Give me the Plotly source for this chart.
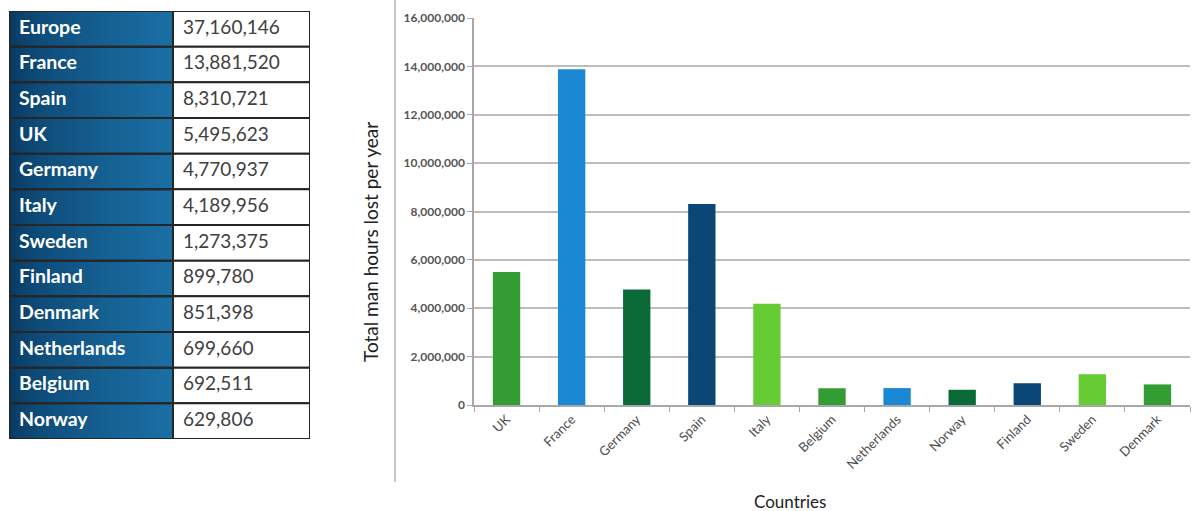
import plotly.graph_objects as go

# ---- data ----
table_labels = ["Europe", "France", "Spain", "UK", "Germany", "Italy", "Sweden",
                "Finland", "Denmark", "Netherlands", "Belgium", "Norway"]
table_values = [37160146, 13881520, 8310721, 5495623, 4770937, 4189956, 1273375,
                899780, 851398, 699660, 692511, 629806]

chart_countries = ["UK", "France", "Germany", "Spain", "Italy", "Belgium",
                   "Netherlands", "Norway", "Finland", "Sweden", "Denmark"]
lookup = dict(zip(table_labels, table_values))
chart_values = [lookup[c] for c in chart_countries]

y_ticks = [0, 2000000, 4000000, 6000000, 8000000, 10000000, 12000000, 14000000, 16000000]

# ---- styling ----
W, H = 1194, 511
palette = ["#339c33", "#1a88d2", "#0b6b38", "#0a4676", "#66cc33"]
bar_colors = [palette[i % 5] for i in range(len(chart_countries))]

def px_x(x):
    return x / W

def px_y(y):
    return 1 - y / H

LABEL_W = 164   # width of label column (px units on table axis)
VALUE_W = 137   # width of value column
PAD = 10
n_rows = len(table_labels)
border = dict(color="#262626", width=2)

fig = go.Figure()

# ---- table drawn on its own axes ----
fig.add_trace(go.Bar(
    orientation="h", y=table_labels, x=[LABEL_W] * n_rows, base=0, width=1,
    marker=dict(color="rgba(0,0,0,0)", line=border),
    xaxis="x2", yaxis="y2", hoverinfo="skip", showlegend=False,
))
fig.add_trace(go.Bar(
    orientation="h", y=table_labels, x=[VALUE_W] * n_rows, base=LABEL_W, width=1,
    marker=dict(color="white", line=border),
    xaxis="x2", yaxis="y2", hoverinfo="skip", showlegend=False,
))
fig.add_trace(go.Scatter(
    x=[PAD] * n_rows, y=table_labels, mode="text",
    text=[f"<b>{t}</b>" for t in table_labels], textposition="middle right",
    textfont=dict(family="Lato", size=19.5, color="white"),
    xaxis="x2", yaxis="y2", hoverinfo="skip", showlegend=False,
))
fig.add_trace(go.Scatter(
    x=[LABEL_W + PAD] * n_rows, y=table_labels, mode="text",
    text=[f"{v:,}" for v in table_values], textposition="middle right",
    textfont=dict(family="Lato", size=19, color="#404040"),
    xaxis="x2", yaxis="y2", hoverinfo="skip", showlegend=False,
))

# ---- bar chart ----
fig.add_trace(go.Bar(
    x=chart_countries, y=chart_values,
    marker=dict(color=bar_colors, line=dict(width=0)),
    width=0.42, showlegend=False, hoverinfo="x+y",
))

shapes = []
# gradient background for table label column
n = 48
c0 = (8, 56, 96)
c1 = (27, 111, 165)
for i in range(n):
    t = i / (n - 1)
    t2 = t ** 0.6
    col = tuple(int(c0[k] + (c1[k] - c0[k]) * t2) for k in range(3))
    xa = LABEL_W * i / n
    xb = min(LABEL_W * (i + 1) / n + 0.8, LABEL_W)
    shapes.append(dict(type="rect", xref="x2", yref="y2 domain",
                       x0=xa, x1=xb, y0=0, y1=1,
                       fillcolor="rgb(%d,%d,%d)" % col, line=dict(width=0), layer="below"))
# separator line
shapes.append(dict(type="line", xref="paper", yref="paper",
                   x0=px_x(395), x1=px_x(395), y0=px_y(482), y1=px_y(0),
                   line=dict(color="#b5b5b5", width=1.5)))

fig.update_layout(
    width=W, height=H,
    margin=dict(l=0, r=0, t=0, b=0),
    paper_bgcolor="white", plot_bgcolor="white",
    font=dict(family="Lato", color="#444"),
    barmode="overlay",
    shapes=shapes,
    xaxis=dict(
        domain=[px_x(474), px_x(1190)],
        tickangle=-45,
        tickfont=dict(size=13, color="#4a4a4a"),
        showline=True, linecolor="#a8a8a8", linewidth=1.5,
        ticks="outside", tickson="boundaries", ticklen=5, tickcolor="#a8a8a8",
        automargin=False,
    ),
    yaxis=dict(
        domain=[px_y(405), px_y(18)],
        range=[0, 16000000],
        tickvals=y_ticks,
        ticktext=[f"<b>{v:,}</b>" for v in y_ticks],
        tickfont=dict(size=12, color="#555"),
        showgrid=True, gridcolor="#bdbdbd", gridwidth=1.5,
        showline=True, linecolor="#a8a8a8", linewidth=1.5,
        ticks="outside", ticklen=5, tickcolor="#a8a8a8",
        zeroline=False,
        automargin=False,
    ),
    xaxis2=dict(
        domain=[px_x(9), px_x(310)], range=[0, LABEL_W + VALUE_W],
        anchor="y2", showgrid=False, zeroline=False, showline=False,
        showticklabels=False, ticks="", fixedrange=True,
    ),
    yaxis2=dict(
        domain=[px_y(439), px_y(11)], range=[n_rows - 0.5, -0.5],
        anchor="x2", type="category", showgrid=False, zeroline=False, showline=False,
        showticklabels=False, ticks="", fixedrange=True,
    ),
    annotations=[
        dict(text="Total man hours lost per year", xref="paper", yref="paper",
             x=px_x(370), y=px_y(242), textangle=-90, showarrow=False,
             font=dict(family="Lato", size=19, color="#222"),
             xanchor="center", yanchor="middle"),
        dict(text="Countries", xref="paper", yref="paper",
             x=px_x(790), y=px_y(501), showarrow=False,
             font=dict(family="Lato", size=17, color="#222"),
             xanchor="center", yanchor="middle"),
    ],
)

fig.write_html("out.html")
